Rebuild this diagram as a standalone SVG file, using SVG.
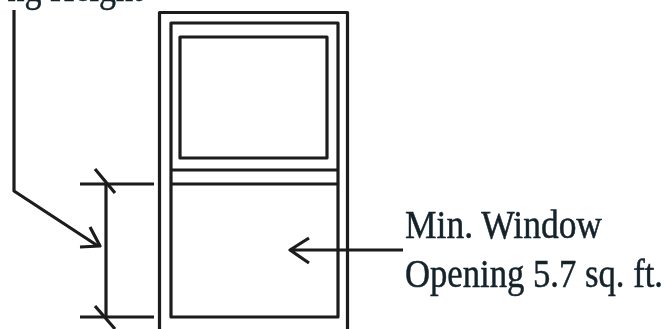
<svg xmlns="http://www.w3.org/2000/svg" width="668" height="329" viewBox="0 0 668 329">
<defs><filter id="soft" x="-5%" y="-5%" width="110%" height="110%"><feGaussianBlur stdDeviation="0.55"/></filter></defs>
<style>
.l{fill:none;stroke:#1c1c1c;stroke-width:3.2;stroke-linejoin:round;stroke-linecap:butt}
.t{font-family:"Liberation Serif",serif;font-size:41px;fill:#14222b;stroke:#14222b;stroke-width:0.5}
</style>
<rect width="668" height="329" fill="#fff"/>
<g filter="url(#soft)">
<g id="window">
<path class="l" d="M159.500 329V12.500H347.500V329"/>
<path class="l" d="M171 317V23H338V317Z"/>
<rect class="l" x="180" y="37" width="147" height="121"/>
<path class="l" d="M171 170H338M171 184H338"/>
</g>
<g id="connectors">
<path class="l" d="M14 10V191L98 246"/>
<path class="l" d="M90 227L100 246L80 247"/>
<path class="l" d="M80 184H154M80 317H154M106 184V317"/>
<path class="l" d="M95 169L115 193M95 306L115 329"/>
<path class="l" d="M403 250H290M309 238L290 250L309 263"/>
</g>
<g id="label-window">
<text class="t" x="405" y="238" textLength="197" lengthAdjust="spacingAndGlyphs">Min. Window</text>
<text class="t" x="405" y="287" textLength="258" lengthAdjust="spacingAndGlyphs">Opening 5.7 sq. ft.</text>
</g>
<g id="label-top">
<text class="t" x="7.500" y="1" textLength="135" lengthAdjust="spacingAndGlyphs">ng Height</text>
</g>
</g>
</svg>
